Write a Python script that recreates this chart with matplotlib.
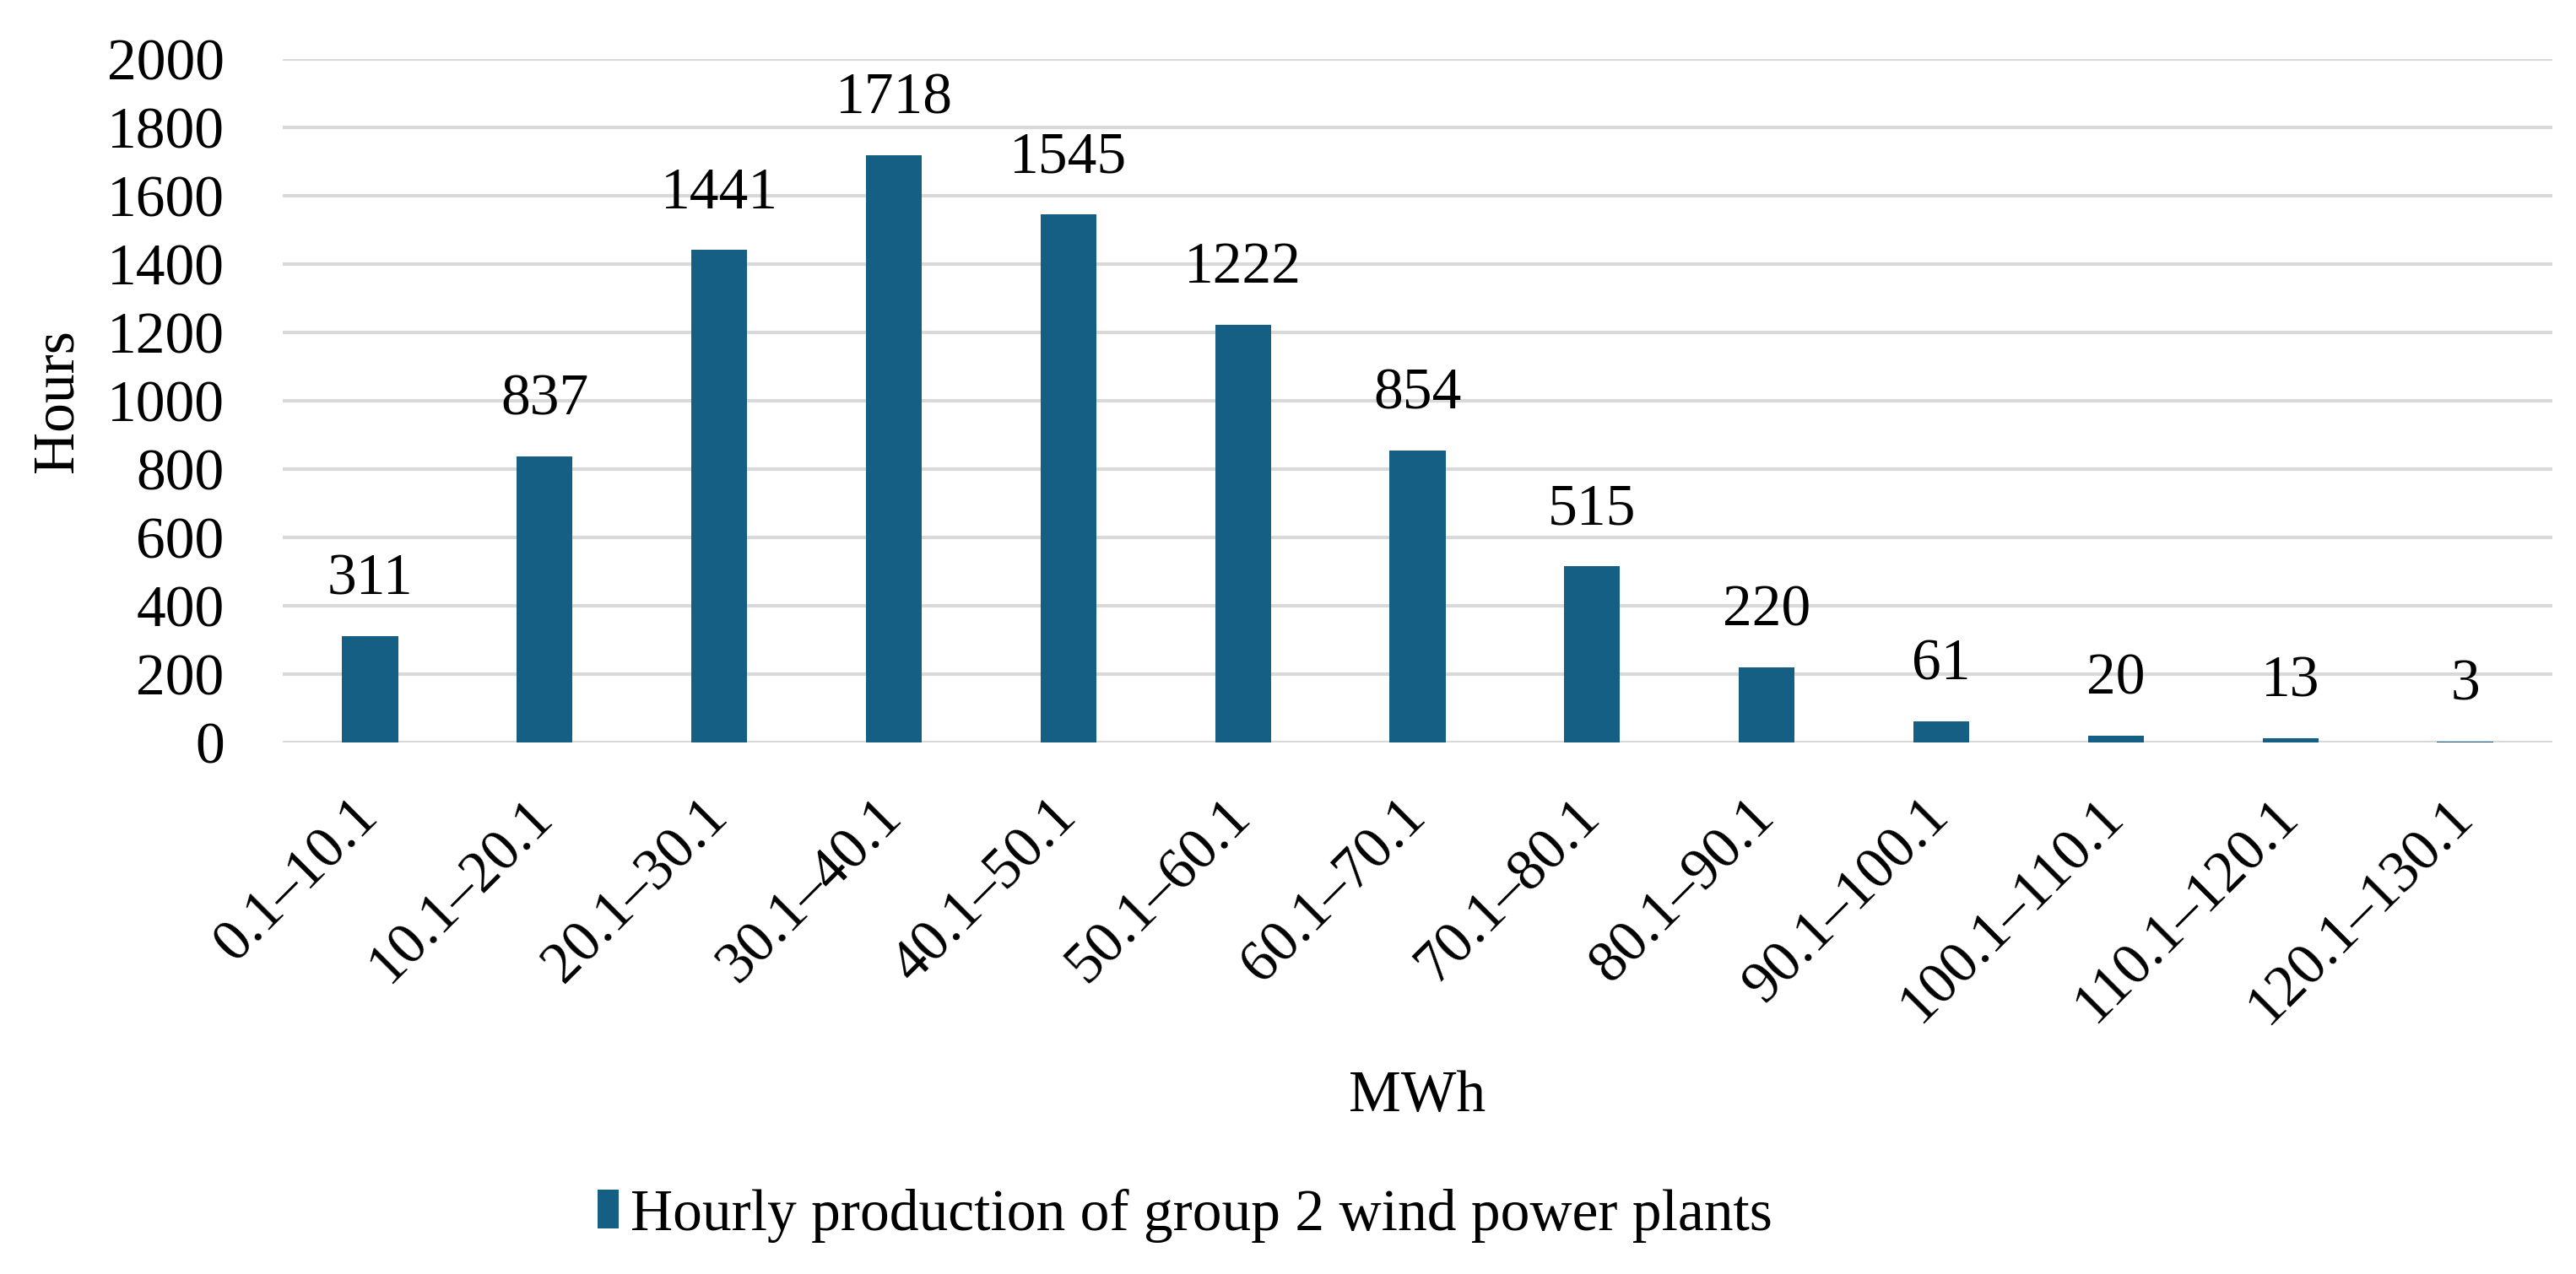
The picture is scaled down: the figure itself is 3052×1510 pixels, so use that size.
import numpy as np
import matplotlib.pyplot as plt
from matplotlib.transforms import ScaledTranslation

# hourly production bins (MWh) and number of hours
bins = ['0.1–10.1', '10.1–20.1', '20.1–30.1', '30.1–40.1', '40.1–50.1',
        '50.1–60.1', '60.1–70.1', '70.1–80.1', '80.1–90.1', '90.1–100.1',
        '100.1–110.1', '110.1–120.1', '120.1–130.1']
hours = [311, 837, 1441, 1718, 1545, 1222, 854, 515, 220, 61, 20, 13, 3]
yticks = [0, 200, 400, 600, 800, 1000, 1200, 1400, 1600, 1800, 2000]
series_name = 'Hourly production of group 2 wind power plants'

plt.rcParams['font.family'] = ['Liberation Serif', 'DejaVu Serif']
fs = 50
barcol = '#155f84'

fig = plt.figure(figsize=(30.52, 15.10), dpi=100)
ax = fig.add_axes([0.1098, 0.4172, 0.881, 0.5364])

x = np.arange(len(bins))
ax.bar(x, hours, width=0.32, color=barcol, zorder=3, label=series_name)

# value labels above the bars
for xi, h in zip(x, hours):
    ax.annotate(str(h), (xi, h), xytext=(0, 25), textcoords='offset points',
                ha='center', va='bottom', fontsize=fs, color='black')

ax.set_xlim(-0.5, len(bins) - 0.5)
ax.set_ylim(0, 2000)
ax.set_yticks(yticks)
ax.set_yticklabels([str(v) for v in yticks])
ax.set_xticks(x)
ax.set_xticklabels(bins, rotation=45, ha='right', va='center',
                   rotation_mode='anchor')
shift = ScaledTranslation(-8 / 100, 0, fig.dpi_scale_trans)
for lab in ax.get_xticklabels():
    lab.set_transform(lab.get_transform() + shift)

ax.grid(axis='y', color='#d9d9d9', linewidth=3, zorder=0)
ax.grid(axis='x', visible=False)
for s in ax.spines.values():
    s.set_visible(False)
ax.tick_params(axis='both', length=0, labelsize=fs)
ax.tick_params(axis='y', pad=50)
ax.tick_params(axis='x', pad=56)

ax.set_ylabel('Hours', fontsize=fs)
ax.yaxis.set_label_coords(-0.0874, 0.5)
ax.set_xlabel('MWh', fontsize=fs)
ax.xaxis.set_label_coords(0.5, -0.479)

fig.legend(loc='center', bbox_to_anchor=(0.46, 0.046), frameon=False,
           fontsize=fs, handlelength=0.35, handleheight=0.64,
           handletextpad=0.2, borderpad=0)

fig.savefig('out.png', dpi=100)
